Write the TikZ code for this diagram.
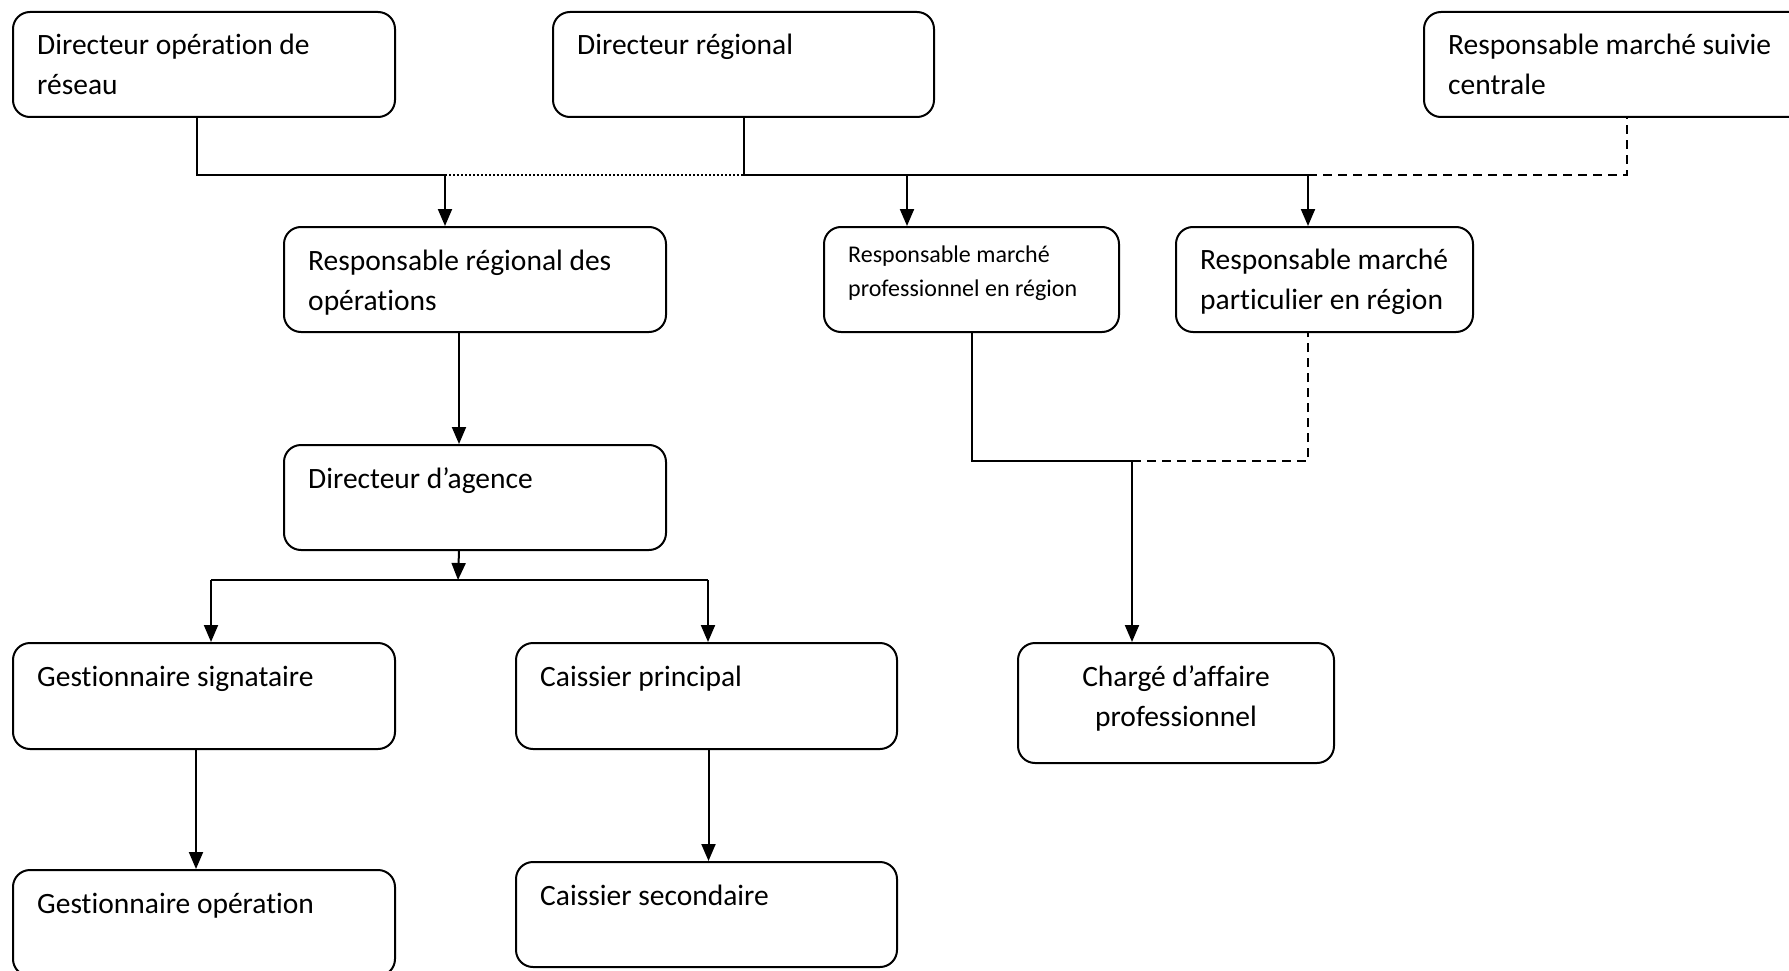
\documentclass[tikz,border=0pt]{standalone}
\usepackage{fontspec}
\setmainfont[Ligatures=NoCommon]{Carlito}
\usetikzlibrary{arrows.meta}
% two-line labels with the first baseline as reference
\newcommand\lines[2]{\begin{tabular}[t]{@{}l@{}}#1\\#2\end{tabular}}
\newcommand\clines[2]{\begin{tabular}[t]{@{}c@{}}#1\\#2\end{tabular}}
\begin{document}
\begin{tikzpicture}[x=1pt,y=-1pt,
  box/.style={draw, line width=2pt, rounded corners=17pt, anchor=north west,
              inner sep=0pt, minimum height=105pt},
  lbl/.style={anchor=base west, inner sep=0pt, font=\fontsize{29.5}{40}\selectfont},
  small/.style={anchor=base west, inner sep=0pt, font=\fontsize{24}{34}\selectfont},
  conn/.style={line width=2pt},
  arr/.style={line width=2pt, -{Triangle[width=14pt,length=17pt]}},
  dotline/.style={line width=1.5pt, dash pattern=on 2pt off 2pt},
  dashline/.style={line width=2pt, dash pattern=on 9pt off 6pt}
]
\clip (0,0) rectangle (1789,971);
\fill[white] (0,0) rectangle (1789,971);

% boxes
\node[box, minimum width=382pt] (A) at (12,11) {};
\node[box, minimum width=381pt] (B) at (552,11) {};
\node[box, minimum width=406pt] (C) at (1423,11) {};
\node[box, minimum width=382pt] (D) at (283,226) {};
\node[box, minimum width=295pt] (E) at (823,226) {};
\node[box, minimum width=297pt] (F) at (1175,226) {};
\node[box, minimum width=382pt] (G) at (283,444) {};
\node[box, minimum width=382pt, minimum height=106pt] (H) at (12,642) {};
\node[box, minimum width=381pt, minimum height=106pt] (I) at (515,642) {};
\node[box, minimum width=316pt, minimum height=120pt] (J) at (1017,642) {};
\node[box, minimum width=382pt, minimum height=106pt] (K) at (12,869) {};
\node[box, minimum width=381pt] (L) at (515,861) {};

% labels
\node[lbl] (tA) at ([shift={(25,44)}]A.north west) {\lines{Directeur opération de}{réseau}};
\node[lbl] (tB) at ([shift={(25,44)}]B.north west) {Directeur régional};
\node[lbl] (tC) at ([shift={(25,44)}]C.north west) {\lines{Responsable marché suivie}{centrale}};
\node[lbl] (tD) at ([shift={(25,44)}]D.north west) {\lines{Responsable régional des}{opérations}};
\node[small] (tE) at ([shift={(25,36)}]E.north west) {\lines{Responsable marché}{professionnel en région}};
\node[lbl] (tF) at ([shift={(25,43)}]F.north west) {\lines{Responsable marché}{particulier en région}};
\node[lbl] (tG) at ([shift={(25,44)}]G.north west) {Directeur d’agence};
\node[lbl] (tH) at ([shift={(25,44)}]H.north west) {Gestionnaire signataire};
\node[lbl] (tI) at ([shift={(25,44)}]I.north west) {Caissier principal};
\node[lbl, anchor=base] (tJ) at ([shift={(0,44)}]J.north) {\clines{Chargé d’affaire}{professionnel}};
\node[lbl] (tK) at ([shift={(25,44)}]K.north west) {Gestionnaire opération};
\node[lbl] (tL) at ([shift={(25,44)}]L.north west) {Caissier secondaire};

% junction points
\coordinate (j1) at (445,175);
\coordinate (jB) at (B.south |- j1);
\coordinate (jE) at (907,175);
\coordinate (jF) at (1308,175);
\coordinate (jJ) at (1132,461);
\coordinate (jG) at (458,580);
\coordinate (jH) at (211,580);
\coordinate (jI) at (708,580);

% top level links
\draw[conn] ([xshift=-7pt]A.south) |- (j1);
\draw[dotline] (j1) -- (jB);
\draw[conn] (B.south) -- (jB) -- (jF);
\draw[dashline] (jF) -| (C.south);
\draw[arr] (j1) -- (j1 |- D.north);
\draw[arr] (jE) -- (jE |- E.north);
\draw[arr] (jF) -- (jF |- F.north);

% market branch
\draw[conn] (E.south) |- (jJ);
\draw[dashline] (jJ) -| (jF |- F.south);
\draw[arr] (jJ) -- (jJ |- J.north);

% operations branch
\draw[arr] ([xshift=-16pt]D.south) -- ([xshift=-16pt]G.north);
\draw[arr] ([xshift=-16pt]G.south) -- (jG);
\draw[conn] (jH) -- (jI);
\draw[arr] (jH) -- (jH |- H.north);
\draw[arr] (jI) -- (jI |- I.north);
\draw[arr] ([xshift=-8pt]H.south) -- ([xshift=-8pt]K.north);
\draw[arr] ([xshift=2pt]I.south) -- ([xshift=2pt]L.north);
\end{tikzpicture}
\end{document}
